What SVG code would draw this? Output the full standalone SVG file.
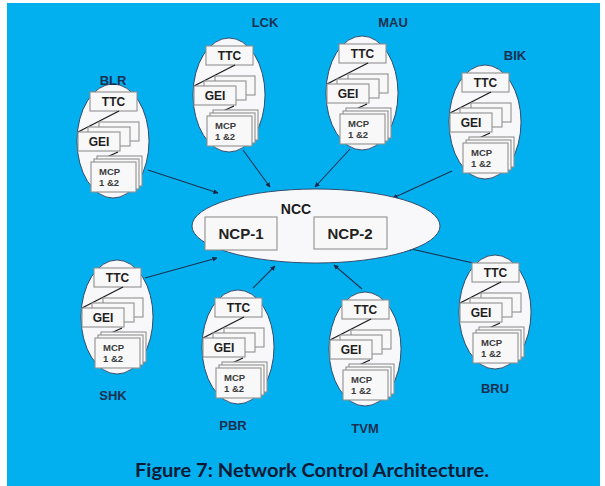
<svg xmlns="http://www.w3.org/2000/svg" xmlns:xlink="http://www.w3.org/1999/xlink" width="605" height="486" viewBox="0 0 605 486">
  <style>
    .bg { fill: #02b0f0; }
    .shell { fill: #f8f8fb; stroke: #2c3e5c; stroke-width: 0.9; }
    .box { fill: #f8f8f8; stroke: #909090; stroke-width: 1.1; }
    .tie { stroke: #1b1b1b; stroke-width: 1.3; fill: none; }
    .unit { font-family: "Liberation Sans", Arial, sans-serif; font-weight: bold; font-size: 12px; fill: #1e1e1e; }
    .mcp { font-family: "Liberation Sans", Arial, sans-serif; font-weight: bold; font-size: 9.5px; fill: #3a3a3a; }
    .site { font-family: "Liberation Sans", Arial, sans-serif; font-weight: bold; font-size: 13px; fill: #1a3050; text-anchor: middle; }
    .link { stroke: #1d3352; stroke-width: 1.1; fill: none; marker-end: url(#head); }
    .ncp { font-family: "Liberation Sans", Arial, sans-serif; font-weight: bold; font-size: 15px; fill: #222; text-anchor: middle; }
    .caption { font-family: Lato, "Liberation Sans", sans-serif; font-weight: bold; font-size: 18px; fill: #0d1a36; text-anchor: middle; }
  </style>
  <defs>
    <marker id="head" viewBox="0 0 10 10" refX="9" refY="5" markerWidth="5" markerHeight="5" orient="auto" markerUnits="userSpaceOnUse">
      <path d="M0,0 L10,5 L0,10 z" fill="#15284a"/>
    </marker>
    <!-- one station: TTC over a stack of GEI cards over a stack of MCP cards -->
    <g id="station">
      <ellipse class="shell" cx="0" cy="0" rx="36" ry="57"/>
      <rect class="box" x="-23" y="-49" width="47" height="19"/>
      <text class="unit" x="0.5" y="-35" text-anchor="middle">TTC</text>
      <line class="tie" x1="6" y1="-30" x2="-35" y2="-9"/>
      <rect class="box" x="-14" y="-19" width="40" height="19"/>
      <rect class="box" x="-25" y="-14" width="42" height="19"/>
      <rect class="box" x="-35" y="-9" width="42" height="19"/>
      <text class="unit" x="-14" y="5" text-anchor="middle">GEI</text>
      <line class="tie" x1="5" y1="11" x2="-19" y2="22"/>
      <rect class="box" x="-16" y="15" width="45" height="30"/>
      <rect class="box" x="-19" y="18" width="45" height="30"/>
      <rect class="box" x="-22" y="21" width="45" height="30"/>
      <text class="mcp" x="-14" y="34">MCP</text>
      <text class="mcp" x="-14" y="45">1 &amp;2</text>
    </g>
  </defs>

  <rect class="bg" x="7" y="3" width="593" height="483"/>

  <!-- links from each station into the control centre -->
  <g id="connectors">
    <line class="link" x1="148" y1="170" x2="218" y2="193"/>
    <line class="link" x1="243" y1="150" x2="270" y2="187"/>
    <line class="link" x1="350" y1="149" x2="315" y2="187"/>
    <line class="link" x1="452" y1="171" x2="393" y2="198"/>
    <line class="link" x1="145" y1="278" x2="217" y2="258"/>
    <line class="link" x1="253" y1="288" x2="275" y2="266"/>
    <line class="link" x1="362" y1="289" x2="334" y2="265"/>
    <line class="link" x1="473" y1="263" x2="407" y2="248"/>
  </g>

  <g id="ncc">
    <ellipse class="shell" cx="316" cy="226" rx="124" ry="37"/>
    <text class="site" x="296" y="214" style="font-size:14px;fill:#1a1a1a">NCC</text>
    <rect class="box" x="205" y="217" width="72" height="33"/>
    <text class="ncp" x="241" y="239">NCP-1</text>
    <rect class="box" x="314" y="217" width="73" height="32"/>
    <text class="ncp" x="350" y="239">NCP-2</text>
  </g>

  <g id="node-blr"><use xlink:href="#station" transform="translate(113,141)"/><text class="site" x="113" y="85">BLR</text></g>
  <g id="node-lck"><use xlink:href="#station" transform="translate(229,95)"/><text class="site" x="265" y="27">LCK</text></g>
  <g id="node-mau"><use xlink:href="#station" transform="translate(362,93)"/><text class="site" x="393" y="27">MAU</text></g>
  <g id="node-bik"><use xlink:href="#station" transform="translate(485,122)"/><text class="site" x="515" y="60">BIK</text></g>
  <g id="node-shk"><use xlink:href="#station" transform="translate(117,317)"/><text class="site" x="113" y="400">SHK</text></g>
  <g id="node-pbr"><use xlink:href="#station" transform="translate(238,347)"/><text class="site" x="233" y="430">PBR</text></g>
  <g id="node-tvm"><use xlink:href="#station" transform="translate(365,349)"/><text class="site" x="365" y="433">TVM</text></g>
  <g id="node-bru"><use xlink:href="#station" transform="translate(495,312)"/><text class="site" x="495" y="393">BRU</text></g>

  <text class="caption" x="312" y="477" textLength="354" lengthAdjust="spacingAndGlyphs">Figure 7: Network Control Architecture.</text>
</svg>
